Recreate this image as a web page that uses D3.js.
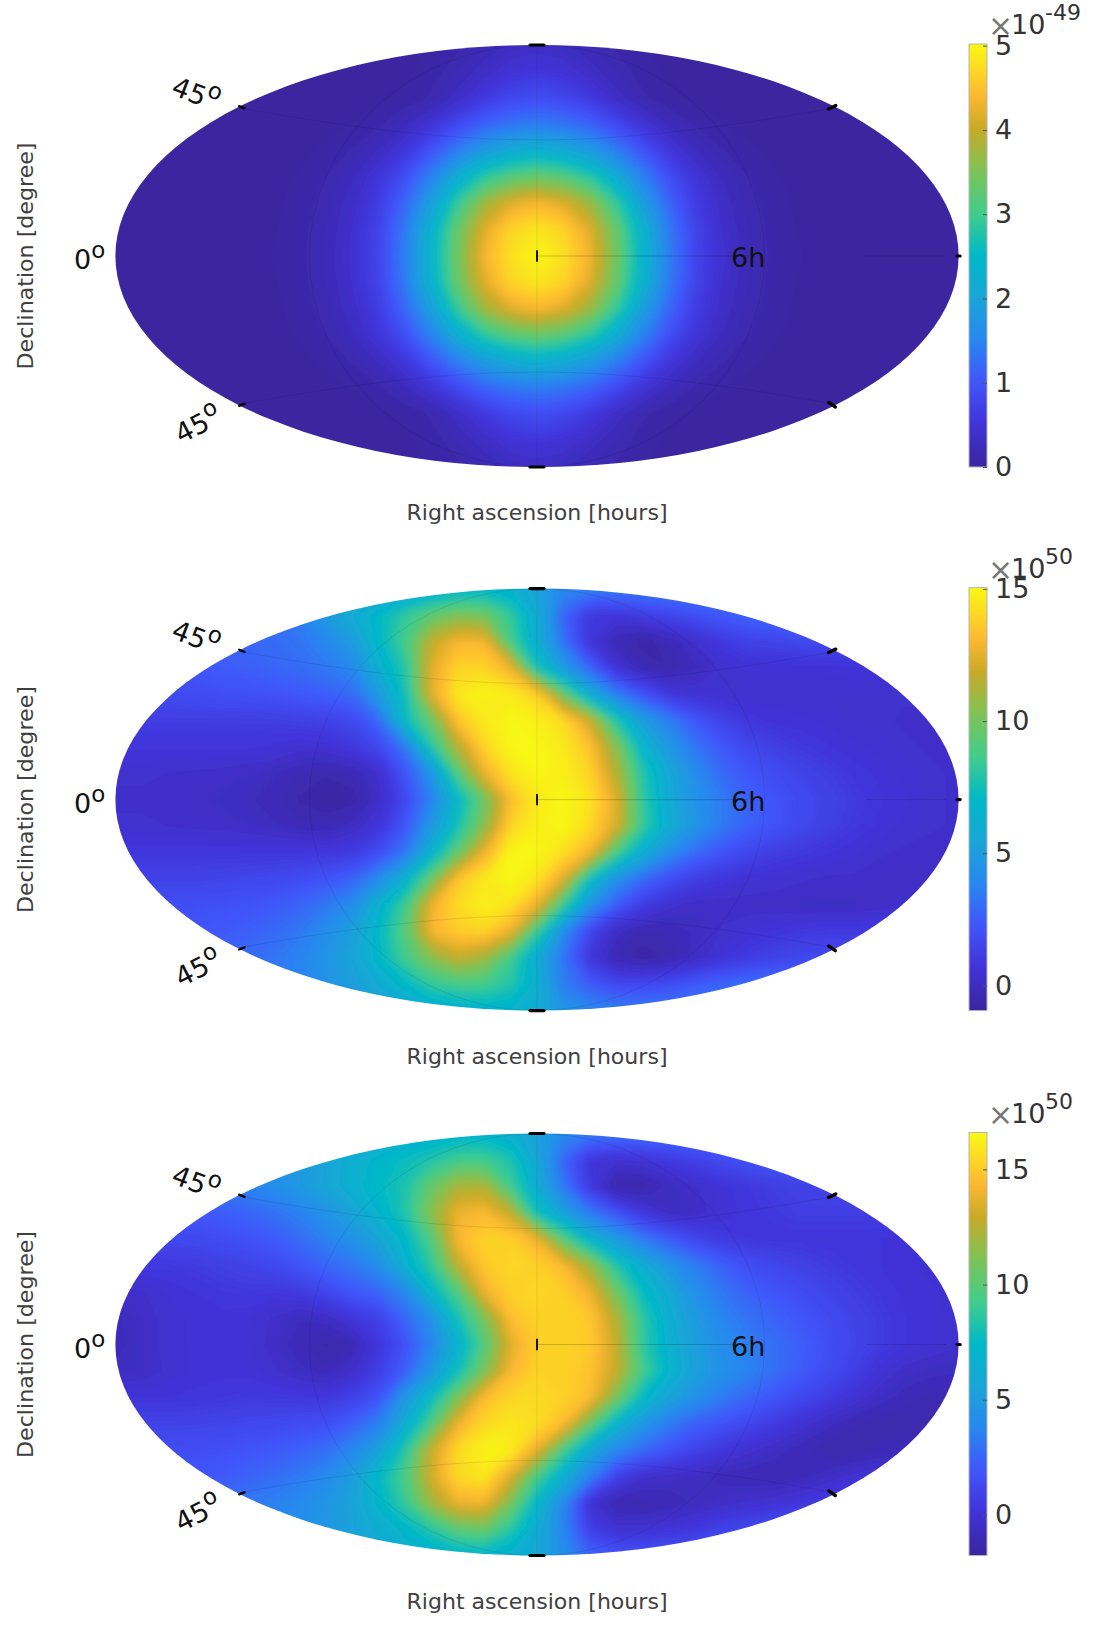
<!DOCTYPE html>
<html>
<head>
<meta charset="utf-8">
<script src="https://cdn.jsdelivr.net/npm/d3@7"></script>
<style>
  html, body { margin: 0; padding: 0; background: #fff; }
  text { font-family: "DejaVu Sans", sans-serif; }
</style>
</head>
<body>
<div id="chart"></div>
<script>
// Values on a 33 x 17 grid over each map's bounding box
const map1 = [
[0,0,0,0,0,0,0,0,0,0,0,.01,.04,.1,.2,.3,.35,.3,.2,.1,.04,.01,0,0,0,0,0,0,0,0,0,0,0],
[0,0,0,0,0,0,0,0,0,0,.01,.02,.08,.2,.35,.5,.55,.5,.35,.2,.08,.02,.01,0,0,0,0,0,0,0,0,0,0],
[0,0,0,0,0,0,0,0,0,0,.02,.05,.15,.35,.62,.82,.9,.82,.62,.35,.15,.05,.02,0,0,0,0,0,0,0,0,0,0],
[0,0,0,0,0,0,0,0,.01,.04,.12,.27,.52,.85,1.15,1.32,1.4,1.32,1.15,.85,.52,.27,.12,.04,.01,0,0,0,0,0,0,0,0],
[0,0,0,0,0,0,0,.01,.06,.14,.3,.58,1,1.45,1.85,2.15,2.3,2.15,1.85,1.45,1,.58,.3,.14,.06,.01,0,0,0,0,0,0,0],
[0,0,0,0,0,0,.01,.05,.13,.28,.55,.95,1.5,2.25,2.85,3.2,3.35,3.2,2.85,2.25,1.5,.95,.55,.28,.13,.05,.01,0,0,0,0,0,0],
[0,0,0,0,0,0,.02,.07,.17,.36,.68,1.2,1.95,2.95,3.75,4.2,4.4,4.2,3.75,2.95,1.95,1.2,.68,.36,.17,.07,.02,0,0,0,0,0,0],
[0,0,0,0,0,0,.03,.09,.2,.42,.78,1.4,2.35,3.35,4.2,4.7,4.85,4.7,4.2,3.35,2.35,1.4,.78,.42,.2,.09,.03,0,0,0,0,0,0],
[0,0,0,0,0,.01,.04,.1,.22,.45,.8,1.45,2.4,3.45,4.35,4.8,5,4.8,4.35,3.45,2.4,1.45,.8,.45,.22,.1,.04,.01,0,0,0,0,0],
[0,0,0,0,0,0,.03,.09,.2,.42,.78,1.4,2.35,3.35,4.2,4.7,4.85,4.7,4.2,3.35,2.35,1.4,.78,.42,.2,.09,.03,0,0,0,0,0,0],
[0,0,0,0,0,0,.02,.07,.17,.36,.68,1.2,1.95,2.95,3.75,4.2,4.4,4.2,3.75,2.95,1.95,1.2,.68,.36,.17,.07,.02,0,0,0,0,0,0],
[0,0,0,0,0,0,.01,.05,.13,.28,.55,.95,1.5,2.25,2.85,3.2,3.35,3.2,2.85,2.25,1.5,.95,.55,.28,.13,.05,.01,0,0,0,0,0,0],
[0,0,0,0,0,0,0,.01,.06,.14,.3,.58,1,1.45,1.85,2.15,2.3,2.15,1.85,1.45,1,.58,.3,.14,.06,.01,0,0,0,0,0,0,0],
[0,0,0,0,0,0,0,0,.01,.04,.12,.27,.52,.85,1.15,1.32,1.4,1.32,1.15,.85,.52,.27,.12,.04,.01,0,0,0,0,0,0,0,0],
[0,0,0,0,0,0,0,0,0,0,.02,.05,.15,.35,.62,.82,.9,.82,.62,.35,.15,.05,.02,0,0,0,0,0,0,0,0,0,0],
[0,0,0,0,0,0,0,0,0,0,.01,.02,.08,.2,.35,.5,.55,.5,.35,.2,.08,.02,.01,0,0,0,0,0,0,0,0,0,0],
[0,0,0,0,0,0,0,0,0,0,0,.01,.04,.1,.2,.3,.35,.3,.2,.1,.04,.01,0,0,0,0,0,0,0,0,0,0,0]
];

const map2 = [
[3.7,3.7,3.7,3.7,3.7,3.7,3.7,3.9,4.3,4.8,5.2,5.5,6,6.5,6.8,6.5,5.5,4,3.7,3.6,3.6,3.6,3.6,3.6,3.6,3.6,3.6,3.6,3.6,3.6,3.6,3.6,3.6],
[3,3,3,3,3,3,3.1,3.6,5,6,7,8.3,9.5,10.3,10,8.3,6,2.8,1,.8,1.2,1.6,2,2.4,2.8,3,3.3,3.3,3.3,3.3,3.3,3.3,3.3],
[2.6,2.6,2.6,2.6,2.7,2.9,3,3.3,4,5,7,8.8,11.8,13,13,8.8,6.2,3.2,.8,-.3,-.7,-.3,.4,1,1.4,1.5,1.7,1.7,1.7,1.7,1.7,1.7,1.7],
[2.3,2.3,2.3,2.3,2.5,2.6,2.8,3,3.4,4,6.3,8,12.5,14,14,12.8,7.6,5,2.8,.7,-.3,-.55,-.1,.4,.6,.6,.6,.6,.7,.7,.7,.7,.7],
[1.8,1.8,1.8,1.9,2,2.1,2.2,2.4,2.6,3,5,7.5,12.5,14.6,14.9,14.7,13.8,9.8,6,3.7,2.2,1,.6,.5,.4,.4,.4,.4,.4,.4,.4,.4,.4],
[1.2,1.2,1.2,1.2,1.2,1.2,1.2,1.3,1.4,1.7,3,7.2,9.8,13.5,14.6,15,14.8,14.2,12,8,5.2,3.7,2.3,1.5,.9,.7,.6,.5,.4,.4,.3,.3,.3],
[.8,.8,.8,.8,.8,.8,.7,.5,.6,1,1.7,3.5,8,11.5,14,15,15,14.6,13.5,10.5,6.8,4.8,3.4,2.4,1.7,1.3,1,.8,.6,.5,.4,.3,.3],
[.4,.4,.35,.3,.25,.15,0,-.3,-.5,-.3,.4,2.2,4.6,9.2,12.7,14.4,15,14.8,14,11.5,8,5.8,4.2,3,2.3,1.9,1.5,1.2,.9,.7,.5,.4,.3],
[.3,.3,.25,.2,.1,0,-.2,-.6,-.85,-.7,.2,1.7,3.8,6.9,9.8,13.3,14.6,15,14.4,12.5,8.3,5.9,4.5,3.5,2.7,2.2,1.8,1.4,1.1,.8,.6,.4,.3],
[.4,.4,.35,.3,.25,.15,0,-.2,-.3,.1,.8,2.3,4.8,7.6,10.5,14,14.8,15,14.2,12.3,8.5,6.2,4.7,3.5,2.7,2.2,1.7,1.3,1,.7,.5,.4,.3],
[.9,.9,.9,.9,.9,.9,.9,.9,.9,1.1,1.9,3.4,6.5,9.6,12.8,15,15,14.3,13,9,6.3,4.3,3,2.2,1.6,1.2,1,.8,.6,.4,.3,.2,.2],
[1.4,1.4,1.4,1.4,1.5,1.6,1.7,1.9,2.2,2.7,4.2,6.5,9.8,13.5,14.6,15.05,14.5,12.4,7.4,4.5,3,2,1.3,.9,.6,.5,.4,.3,.3,.2,.2,.2,.2],
[2,2,2,2,2.1,2.2,2.4,2.8,3.4,4.3,6.5,8.6,12.8,14.2,14.8,14.4,12.7,8.5,4.5,2.5,1.2,.5,.2,.2,.2,.2,.1,.1,.1,.2,.3,.4,.5],
[2.3,2.3,2.3,2.3,2.4,2.6,2.9,3.4,4.2,5.2,7,9.3,13,13.8,14,12.7,8.5,4.2,1.6,.1,-.4,-.3,0,.4,.6,.8,1,1.1,1.1,1.1,1.1,1,1],
[2.7,2.7,2.7,2.7,2.8,3,3.3,3.8,4.6,5.5,7,8.7,10.5,11.8,11,8.7,6,3.3,.9,-.4,-.7,-.5,.1,.7,1.1,1.4,1.6,1.7,1.7,1.7,1.7,1.7,1.7],
[3.3,3.3,3.3,3.3,3.3,3.4,3.5,3.8,4.4,5.2,6,7,8.3,8.8,8.8,8,6.3,3.6,2.5,1.7,1.7,1.9,2.4,2.8,3.1,3.2,3.3,3.3,3.3,3.3,3.3,3.3,3.3],
[3.8,3.8,3.8,3.8,3.8,3.8,3.9,4,4.2,4.6,5.1,5.6,6,6.3,6.5,6.6,6,4.6,4,3.7,3.6,3.6,3.6,3.6,3.6,3.6,3.6,3.6,3.6,3.6,3.6,3.6,3.6]
];

const map3 = [
[5.5,5.5,5.5,5.5,5.5,5.5,5.5,5.5,5.5,5.6,5.9,6.3,6.6,7,7,6.5,5.5,4,3.3,3.1,3,3,3.1,3.2,3.3,3.4,3.5,3.5,3.5,3.5,3.5,3.5,3.5],
[4,4,4,4,4,4,4.3,4.8,5.6,6.5,7.2,7.8,8.4,9.3,9.3,8.3,5.8,2.6,.3,-.1,.1,.5,.9,1.4,1.8,2,2.3,2.5,2.6,2.6,2.6,2.6,2.6],
[3,3,3,3,3.3,3.7,4.2,4.9,5.7,6.6,7.5,8.3,10.5,12.3,12.3,9.3,6.3,3.2,.5,-1.4,-1.3,-.7,-.3,.1,.4,.7,.9,1,1.1,1.2,1.2,1.2,1.2],
[2,2,2,2,2.2,2.5,3,3.6,4.5,5.6,7,8.4,11.5,14,14.4,12.8,7.8,5.5,3.3,1.9,.4,-.5,-.5,0,.3,.5,.7,.7,.7,.7,.7,.7,.7],
[1.2,1.2,1.2,1.3,1.5,1.8,2.1,2.8,3.6,4.5,5.7,7.3,9.8,14.4,15.3,15.3,14,10,6.9,5,3.4,2.2,1.2,.6,.4,.3,.3,.3,.3,.2,.1,.1,.1],
[.5,.5,.5,.6,.8,1,1.3,1.9,2.6,3.2,4.3,6.7,8.8,12.7,15,15.4,15.3,14.4,12,8.5,6.4,4.7,3.5,2.4,1.6,1.2,.9,.6,.4,.2,0,-.1,-.1],
[-.3,-.3,0,.2,.4,.5,.4,.6,1.2,2,2.6,4,7.2,9.8,14,15.3,15.4,15.2,14,10.8,7.6,6,4.3,3.2,2.4,1.9,1.5,1.1,.7,.4,.1,0,-.1],
[-.8,-.5,-.1,0,.1,0,-.3,-.7,-.5,.3,.9,2.6,4.4,8,11,14.6,15.3,15.3,15,12.5,8.8,6.4,5,3.8,3,2.5,2,1.5,1,.6,.2,0,-.2],
[-.9,-.5,-.1,0,.1,0,-.4,-1,-1.4,-1,.3,1.8,3.8,6.7,9.8,13.6,15.2,15.3,15.1,13,8.8,6.7,5.3,4.2,3.5,2.9,2.3,1.7,1.1,.6,.2,0,-.2],
[-.6,-.5,-.2,0,.1,.1,-.2,-.6,-.9,-.3,.8,2.3,4.8,7.8,11,14.3,15.3,15.3,14.8,13,9.5,7,5.4,4.4,3.7,2.9,2.2,1.5,.8,.1,-.4,-.6,-.7],
[.2,.2,.2,.3,.4,.5,.5,.4,.4,.9,1.8,4.8,7.6,11,14.5,15.4,15.6,15.3,14.6,11,7.5,5.7,4.4,3.4,2.6,1.9,1.3,.7,.1,-.5,-.9,-1.1,-1.1],
[1,1,1,1,1.1,1.2,1.3,1.5,1.6,2.4,3.6,6.3,9.8,14,15.5,16,15.7,14.5,10.5,7,4.8,3.4,2.4,1.8,1.2,.6,0,-.6,-1,-1.3,-1.3,-1.2,-1.1],
[1.5,1.5,1.5,1.6,1.7,1.9,2.1,2.4,2.9,3.9,5.5,8.6,13,15.6,16.5,16.3,13.8,9.5,6,4,2.8,1.8,1,.4,-.1,-.5,-.9,-1.3,-1.3,-1.1,-.9,-.6,-.4],
[2,2,2,2,2.1,2.4,2.8,3.3,4,5.2,7.4,9.6,13.3,15.6,16,13.5,9.5,6.6,3.6,1,-.2,-.4,-.6,-.9,-1,-1.1,-.9,-.5,-.1,.2,.4,.5,.6],
[2.8,2.8,2.8,2.8,3,3.3,3.6,4,4.6,5.6,7.2,9,12,14,14.2,11,7.2,4,0,-1.1,-1.2,-1,-.7,-.4,-.2,0,.3,.6,.8,1,1.1,1.1,1.1],
[3.4,3.4,3.4,3.4,3.5,3.7,4,4.3,4.8,5.5,6.3,7.2,8.5,10.2,10.6,8.6,6.2,3.8,.8,-.1,-.1,.1,.4,.9,1.3,1.8,2.2,2.5,2.7,2.8,2.8,2.8,2.8],
[4.2,4.2,4.2,4.2,4.3,4.4,4.6,4.8,5.2,5.6,6,6.5,6.8,7,7,6.6,6,4.2,2.6,2,1.9,2,2.3,2.6,3,3.2,3.4,3.5,3.5,3.5,3.5,3.5,3.5]
];

const domain1 = [0, 5.02];
const domain2 = [-0.95, 15.05];
const domain3 = [-1.76, 16.6];
const ticks1 = [0, 1, 2, 3, 4, 5];
const ticks2 = [0, 5, 10, 15];
const ticks3 = [0, 5, 10, 15];
const exponents = ["-49", "50", "50"];

// colormap
const cmapStops = [0, 0.1, 0.2, 0.3, 0.4, 0.5, 0.6, 0.7, 0.8, 0.88, 1];
const cmapColors = ["#3a26a0", "#4132d7", "#4155fa", "#2887f0", "#19a5d7", "#00b9c8", "#41cd8c", "#7dc355", "#c8aa28", "#ffb932", "#f8fa14"];

const width = 1093;
const height = 1630;
const cols = 33;
const rows = 17;

const svg = d3.select("#chart").append("svg")
  .attr("width", width)
  .attr("height", height)
  .style("display", "block");

const defs = svg.append("defs");
defs.append("filter").attr("id", "soft")
  .attr("x", "-5%").attr("y", "-10%").attr("width", "110%").attr("height", "120%")
  .append("feGaussianBlur").attr("stdDeviation", 4);

const panels = [
  { values: map1, domain: domain1, ticks: ticks1, exp: exponents[0], top: 45 },
  { values: map2, domain: domain2, ticks: ticks2, exp: exponents[1], top: 588.6 },
  { values: map3, domain: domain3, ticks: ticks3, exp: exponents[2], top: 1133.5 }
];

panels.forEach((p, n) => {
  const mapH = 422;
  const left = 115.4, right = 958.6;

  // normalised map coordinates, -1..1 both ways
  const px = d3.scaleLinear().domain([-1, 1]).range([left, right]);
  const py = d3.scaleLinear().domain([-1, 1]).range([p.top + mapH, p.top]);
  // grid index to pixels; contours puts value i at i + 0.5
  const gx = d3.scaleLinear().domain([0.5, cols - 0.5]).range([left, right]);
  const gy = d3.scaleLinear().domain([0.5, rows - 0.5]).range([p.top, p.top + mapH]);

  const color = d3.scaleLinear()
    .domain(cmapStops.map(t => p.domain[0] + t * (p.domain[1] - p.domain[0])))
    .range(cmapColors)
    .clamp(true);

  defs.append("clipPath").attr("id", "clip" + n)
    .append("ellipse")
    .attr("cx", px(0)).attr("cy", py(0))
    .attr("rx", px(1) - px(0)).attr("ry", py(-1) - py(0));

  const g = svg.append("g");
  const map = g.append("g").attr("clip-path", `url(#clip${n})`);
  const field = map.append("g").attr("filter", "url(#soft)");

  // background of the lowest colour, bigger than the map so the blur stays clean
  field.append("rect")
    .attr("x", left - 30).attr("y", p.top - 30)
    .attr("width", right - left + 60).attr("height", mapH + 60)
    .attr("fill", color(p.domain[0]));

  const flat = p.values.flat();
  const thresholds = d3.range(0, 160).map(i => p.domain[0] + (i / 160) * (p.domain[1] - p.domain[0]));
  const contours = d3.contours().size([cols, rows]).thresholds(thresholds)(flat);

  const path = d3.geoPath(d3.geoTransform({
    point: function (x, y) {
      this.stream.point(gx(x), gy(y));
    }
  }));

  field.selectAll("path")
    .data(contours)
    .enter()
    .append("path")
    .attr("d", path)
    .attr("fill", d => color(d.value));

  // faint grid lines
  const grid = map.append("g").attr("fill", "none").attr("stroke", "rgba(0,0,0,0.09)").attr("stroke-width", 1);
  grid.append("ellipse")
    .attr("cx", px(0)).attr("cy", py(0))
    .attr("rx", px(0.54) - px(0)).attr("ry", py(-1) - py(0));
  grid.append("line")
    .attr("x1", px(0)).attr("x2", px(0))
    .attr("y1", py(1)).attr("y2", py(-1))
    .attr("stroke", "rgba(0,0,0,0.07)");
  grid.append("line")
    .attr("x1", px(0)).attr("x2", px(0.5))
    .attr("y1", py(0)).attr("y2", py(0))
    .attr("stroke", "rgba(0,0,0,0.18)");
  grid.append("line")
    .attr("x1", px(0.78)).attr("x2", px(0.97))
    .attr("y1", py(0)).attr("y2", py(0))
    .attr("stroke", "rgba(0,0,0,0.14)");
  [1, -1].forEach(s => {
    const d = d3.path();
    d.moveTo(px(-0.7), py(s * 0.7));
    d.bezierCurveTo(px(-0.42), py(s * 0.6), px(-0.2), py(s * 0.55), px(0), py(s * 0.55));
    d.bezierCurveTo(px(0.2), py(s * 0.55), px(0.42), py(s * 0.6), px(0.7), py(s * 0.7));
    grid.append("path").attr("d", d.toString());
  });

  // black ticks on the frame
  const tick = (x, y, angle, len, w) => g.append("line")
    .attr("transform", `translate(${px(x)},${py(y)}) rotate(${angle})`)
    .attr("x1", -len / 2).attr("x2", len / 2)
    .attr("stroke", "#000").attr("stroke-width", w).attr("stroke-linecap", "round");
  tick(0, 1, 0, 14, 3.2);
  tick(0, -1, 0, 14, 3.2);
  tick(-0.7, 0.705, 22, 6, 2.2);
  tick(-0.7, -0.705, -22, 6, 2.2);
  tick(0.7, 0.705, -25, 8, 3.4);
  tick(0.7, -0.705, 35, 8, 3.4);
  tick(1, 0, 0, 3, 3.2);
  tick(0, 0, 90, 10, 1.8);

  // map labels
  const eq = py(0);
  const degLabel = (x, y, angle, txt, sup) => {
    const t = g.append("text")
      .attr("transform", `translate(${x},${y}) rotate(${angle})`)
      .attr("font-size", 27).attr("fill", "#111");
    t.append("tspan").text(txt);
    t.append("tspan").attr("dy", -11).attr("font-size", 23).text(sup);
  };
  degLabel(74, eq + 13, 0, "0", "o");
  degLabel(170, p.top + 49, 21, "45", "o");
  degLabel(181, p.top + 399, -27, "45", "o");

  g.append("text")
    .attr("x", 731).attr("y", eq + 11)
    .attr("font-size", 27).attr("fill", "#111")
    .text("6h");

  g.append("text")
    .attr("transform", `translate(33,${eq}) rotate(-90)`)
    .attr("text-anchor", "middle")
    .attr("font-size", 21).attr("fill", "#404040")
    .attr("textLength", 227).attr("lengthAdjust", "spacingAndGlyphs")
    .text("Declination [degree]");

  g.append("text")
    .attr("x", px(0)).attr("y", p.top + mapH + 53)
    .attr("text-anchor", "middle")
    .attr("font-size", 21).attr("fill", "#404040")
    .attr("textLength", 261).attr("lengthAdjust", "spacingAndGlyphs")
    .text("Right ascension [hours]");

  // colour bar
  const barX = 969, barW = 18;
  const barTop = p.top - 1, barBottom = p.top + mapH;
  const cy = d3.scaleLinear().domain(p.domain).range([barBottom, barTop]);

  const gradId = "grad" + n;
  const grad = defs.append("linearGradient").attr("id", gradId)
    .attr("x1", 0).attr("x2", 0).attr("y1", 1).attr("y2", 0);
  cmapStops.forEach((t, i) => grad.append("stop")
    .attr("offset", t).attr("stop-color", cmapColors[i]));

  g.append("rect")
    .attr("x", barX).attr("y", barTop)
    .attr("width", barW).attr("height", barBottom - barTop)
    .attr("fill", `url(#${gradId})`)
    .attr("stroke", "#b5b5b5").attr("stroke-width", 1);

  const axis = g.append("g")
    .attr("transform", `translate(${barX + barW},0)`)
    .call(d3.axisRight(cy).tickValues(p.ticks).tickSizeInner(-4).tickSizeOuter(0).tickPadding(8).tickFormat(d3.format("d")));
  axis.select(".domain").remove();
  axis.selectAll("line").attr("stroke", "#555");
  axis.selectAll("text")
    .attr("font-size", 27).attr("fill", "#333")
    .attr("font-family", '"DejaVu Sans", sans-serif');

  // x10^n label
  g.append("text")
    .attr("x", 988).attr("y", p.top - 9)
    .attr("font-size", 30).attr("fill", "#777")
    .text("\u00d7");
  g.append("text")
    .attr("x", 1011).attr("y", p.top - 11)
    .attr("font-size", 27).attr("fill", "#333")
    .text("10");
  g.append("text")
    .attr("x", 1045).attr("y", p.top - 25)
    .attr("font-size", 22).attr("fill", "#333")
    .text(p.exp);
});
</script>
</body>
</html>
